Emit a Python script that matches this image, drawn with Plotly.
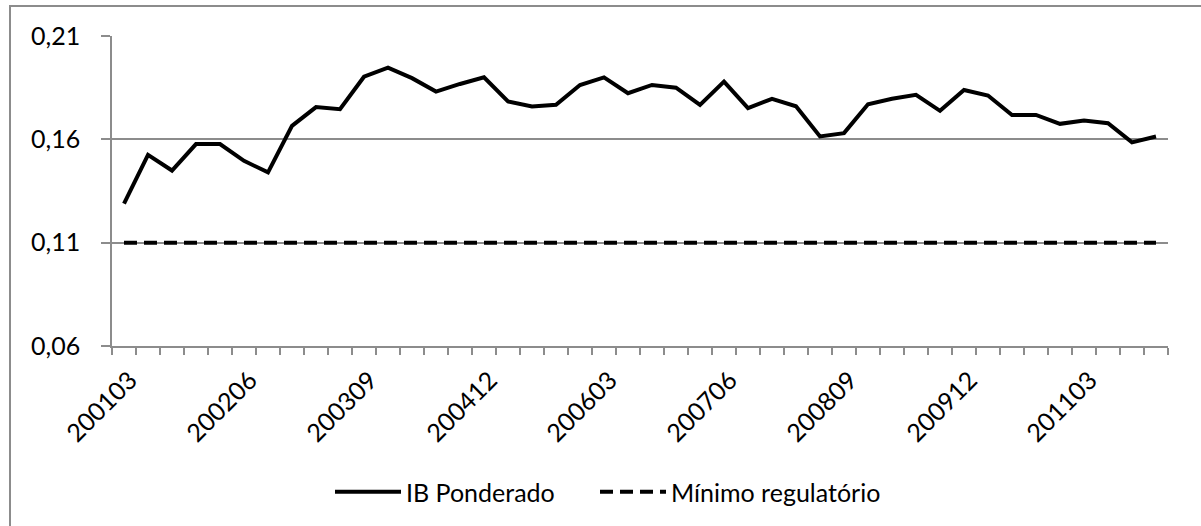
import plotly.graph_objects as go

periods = [f"{y}{m}" for y in range(2001, 2012) for m in ("03", "06", "09", "12")]

ib_ponderado = [
    0.1289, 0.1525, 0.1449, 0.1577, 0.1577, 0.1496, 0.1440, 0.1665,
    0.1756, 0.1746, 0.1903, 0.1947, 0.1896, 0.1831, 0.1868, 0.1900,
    0.1783, 0.1759, 0.1767, 0.1863, 0.1900, 0.1823, 0.1863, 0.1850,
    0.1767, 0.1879, 0.1751, 0.1796, 0.1760, 0.1614, 0.1630, 0.1770,
    0.1796, 0.1815, 0.1738, 0.1839, 0.1812, 0.1718, 0.1718, 0.1675,
    0.1691, 0.1678, 0.1585, 0.1614,
]
minimo_regulatorio = [0.11] * len(periods)

label_idx = list(range(0, len(periods), 5))
label_text = [periods[i] for i in label_idx]

x = list(range(len(periods)))

FONT = "Lato"
FS = 25
GRAY = "#8c8c8c"

fig = go.Figure()
fig.add_trace(go.Scatter(
    x=x, y=ib_ponderado, mode="lines", name="IB Ponderado",
    line=dict(color="black", width=4), legend="legend",
))
fig.add_trace(go.Scatter(
    x=x, y=minimo_regulatorio, mode="lines", name="Mínimo regulatório",
    line=dict(color="black", width=4, dash="13px,7px"), legend="legend2",
))

L, R, T, B = 112, 33, 36, 179
W, H = 1201, 526
pw, ph = W - L - R, H - T - B

def px_x(p):
    return (p - L) / pw

def px_y(p):
    return (H - B - p) / ph

legend_style = dict(
    orientation="h", xanchor="left",
    y=px_y(492), yanchor="middle",
    font=dict(family=FONT, size=FS, color="black"),
    itemwidth=66, bgcolor="rgba(0,0,0,0)",
)

fig.update_layout(
    width=W, height=H,
    margin=dict(l=L, r=R, t=T, b=B),
    paper_bgcolor="white", plot_bgcolor="white",
    separators=",.",
    font=dict(family=FONT, size=FS, color="black"),
    showlegend=True,
    legend=dict(x=px_x(330), **legend_style),
    legend2=dict(x=px_x(595), **legend_style),
    xaxis=dict(
        range=[-0.5, len(periods) - 0.5],
        tickmode="array", tickvals=[i + 0.25 for i in label_idx],
        ticktext=label_text,
        tickangle=-45, ticks="", ticklabelstandoff=8,
        showgrid=False, zeroline=False,
        showline=True, linecolor=GRAY, linewidth=1.5,
        tickfont=dict(family=FONT, size=FS),
        minor=dict(ticks="outside", tick0=-0.5, dtick=1, ticklen=7,
                   tickcolor=GRAY, tickwidth=1.5, showgrid=False),
    ),
    yaxis=dict(
        range=[0.06, 0.21], tickmode="linear", tick0=0.06, dtick=0.05,
        tickformat=".2f",
        showgrid=True, gridcolor=GRAY, gridwidth=1.5,
        zeroline=False,
        showline=True, linecolor=GRAY, linewidth=1.5,
        ticks="outside", ticklen=9, tickcolor=GRAY, tickwidth=1.5,
        ticklabelstandoff=16,
        tickfont=dict(family=FONT, size=FS),
    ),
    shapes=[dict(
        type="rect", xref="paper", yref="paper",
        x0=px_x(10), x1=px_x(1215), y0=px_y(540), y1=px_y(6),
        line=dict(color=GRAY, width=2), fillcolor="rgba(0,0,0,0)",
        layer="below",
    )],
)

fig.write_html(
    "out.html",
    config={"displayModeBar": False},
    post_script="document.body.style.margin='0';document.body.style.overflow='hidden';",
)
